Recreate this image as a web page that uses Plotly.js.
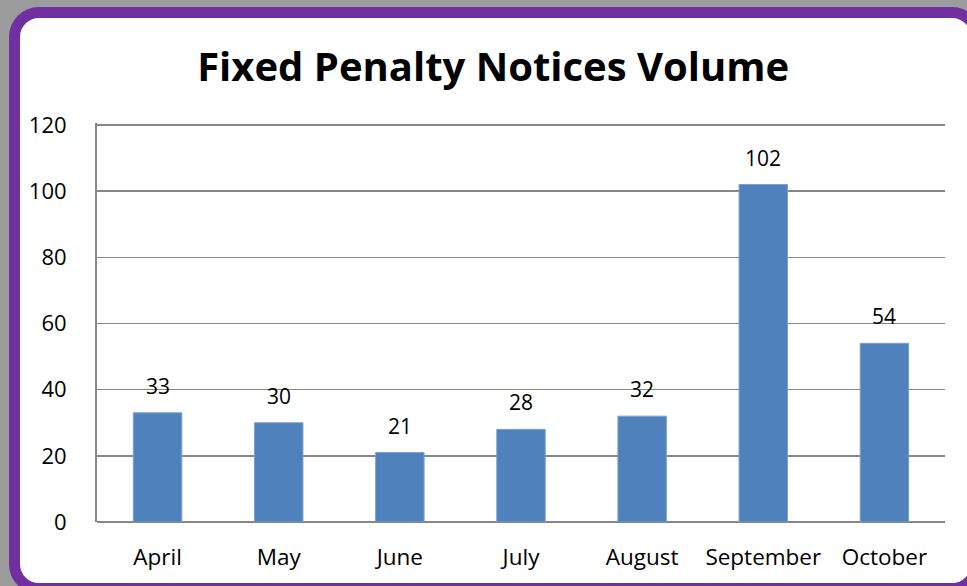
<!DOCTYPE html>
<html>
<head>
<meta charset="utf-8">
<script src="https://cdn.plot.ly/plotly-3.0.1.min.js"></script>
<style>
  html, body { margin: 0; padding: 0; width: 967px; height: 586px; overflow: hidden; background: #9c9c9c; }
  #frame { position: absolute; left: 9px; top: 7px; width: 951px; height: 565px; border: 11px solid #7030a0; border-radius: 30px; background: #ffffff; }
  #chart { position: absolute; left: 0; top: 0; width: 967px; height: 586px; }
</style>
</head>
<body>
<div id="frame"></div>
<div id="chart"></div>
<script>
const months = ["April", "May", "June", "July", "August", "September", "October"];
const volumes = [33, 30, 21, 28, 32, 102, 54];
const yTicks = [0, 20, 40, 60, 80, 100, 120];
const chartTitle = "Fixed Penalty Notices Volume";

const font = "'Open Sans', 'Noto Sans', sans-serif";

const trace = {
  type: "bar",
  x: months,
  y: volumes,
  marker: { color: "#4f81bd", line: { color: "#7aa0d0", width: 1 } },
  hoverinfo: "x+y"
};

const annotations = months.map((m, i) => ({
  x: m, y: volumes[i], xref: "x", yref: "y",
  text: String(volumes[i]), showarrow: false,
  yanchor: "bottom", yshift: 11,
  font: { family: font, size: 21, color: "#000000" }
}));

const layout = {
  width: 967, height: 586,
  paper_bgcolor: "rgba(0,0,0,0)",
  plot_bgcolor: "rgba(0,0,0,0)",
  margin: { l: 97, r: 22, t: 123, b: 64, pad: 0 },
  title: {
    text: "<b>" + chartTitle + "</b>",
    font: { family: font, size: 40, color: "#000000" },
    x: 0.51, xanchor: "center", y: 0.885, yanchor: "middle"
  },
  bargap: 0.6,
  showlegend: false,
  xaxis: {
    type: "category",
    showline: false,
    showgrid: false,
    ticks: "",
    ticklabelstandoff: 19,
    tickfont: { family: font, size: 22.5, color: "#000000" },
    fixedrange: true
  },
  yaxis: {
    range: [0, 120.6],
    tickvals: yTicks,
    ticktext: yTicks.map(String),
    showgrid: true,
    gridcolor: "#878787",
    gridwidth: 1.5,
    zeroline: true,
    zerolinecolor: "#878787",
    zerolinewidth: 2,
    showline: true,
    linecolor: "#878787",
    linewidth: 2,
    ticks: "",
    ticklabelstandoff: 24,
    tickfont: { family: font, size: 22, color: "#000000" },
    fixedrange: true
  },
  annotations: annotations
};

Plotly.newPlot("chart", [trace], layout, { displayModeBar: false, staticPlot: true });
</script>
</body>
</html>
